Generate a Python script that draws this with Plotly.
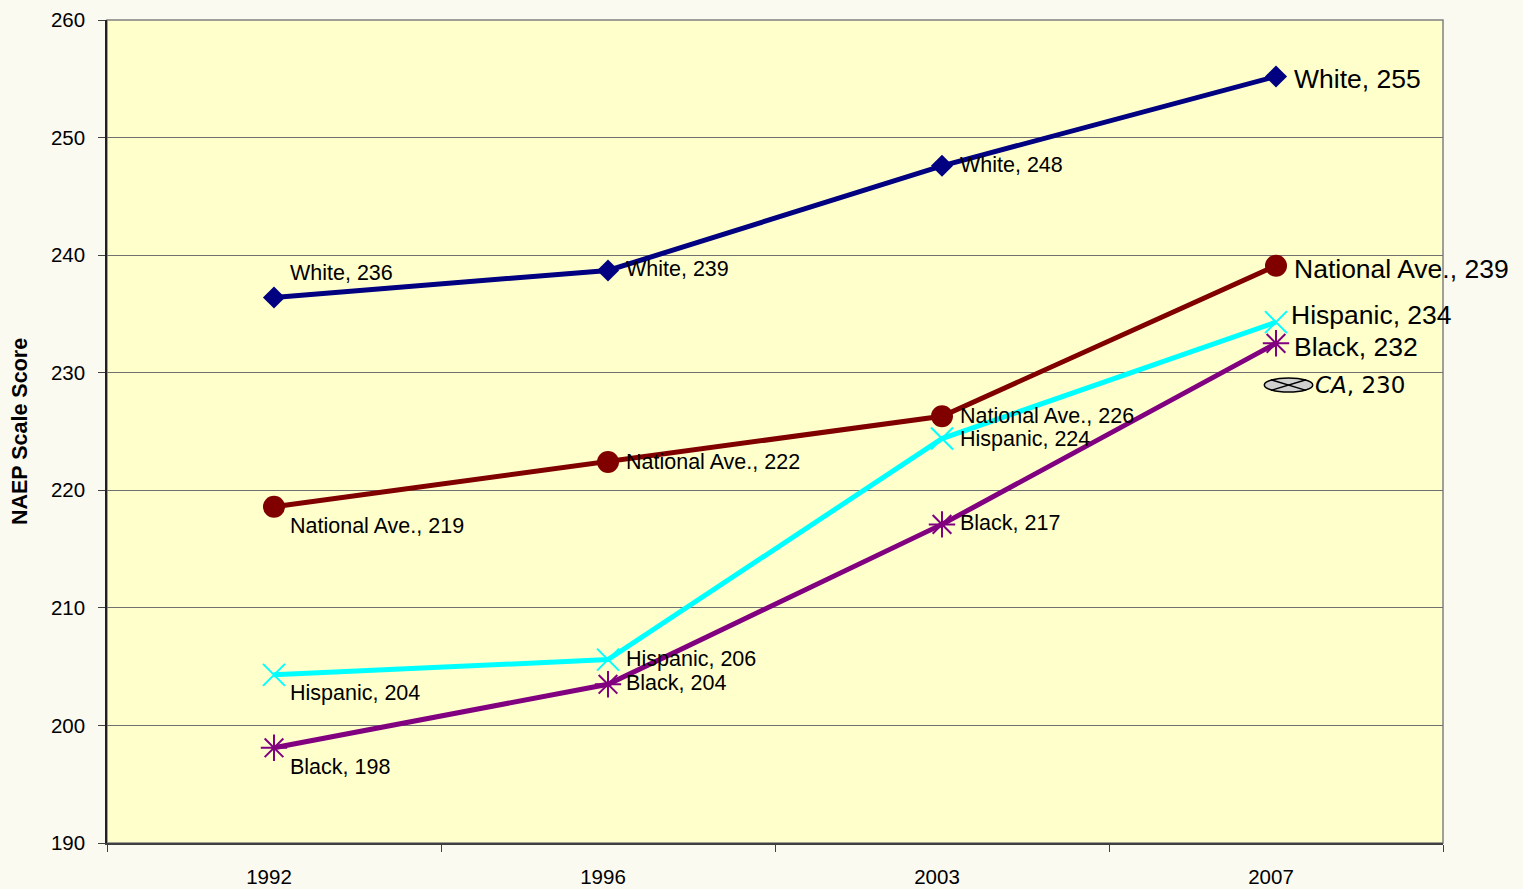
import plotly.graph_objects as go

years = ["1992", "1996", "2003", "2007"]
white = [236.4, 238.7, 247.6, 255.2]
national = [218.6, 222.4, 226.3, 239.1]
hispanic = [204.3, 205.6, 224.4, 234.3]
black = [198.1, 203.5, 217.1, 232.5]
white_lbl = [236, 239, 248, 255]
national_lbl = [219, 222, 226, 239]
hispanic_lbl = [204, 206, 224, 234]
black_lbl = [198, 204, 217, 232]
ca_year = "2007"
ca_value = 230
y_ticks = [190, 200, 210, 220, 230, 240, 250, 260]

FONT = "Liberation Sans, Arial, sans-serif"

fig = go.Figure()

series = [
    ("White", white, "#000080", dict(symbol="diamond", size=17, color="#000080")),
    ("National Ave.", national, "#800000", dict(symbol="circle", size=22, color="#800000")),
    ("Hispanic", hispanic, "#00FFFF", dict(symbol="x-thin-open", size=22, color="#00FFFF",
                                          line=dict(color="#00FFFF", width=2))),
    ("Black", black, "#800080", dict(symbol="asterisk-open", size=22, color="#800080",
                                     line=dict(color="#800080", width=2))),
]
for name, vals, col, mk in series:
    fig.add_trace(go.Scatter(x=years, y=vals, mode="lines+markers", name=name,
                             line=dict(color=col, width=5), marker=mk,
                             showlegend=False, hoverinfo="x+y"))

label_specs = [
    ("White", white, white_lbl, [(14, 24), (16, 1), (16, 1), (16, -3)]),
    ("National Ave.", national, national_lbl, [(14, -19), (16, 0), (16, 0), (16, -3)]),
    ("Hispanic", hispanic, hispanic_lbl, [(14, -18), (16, 1), (16, 0), (13, 7)]),
    ("Black", black, black_lbl, [(14, -19), (16, 1), (16, 1), (16, -4)]),
]
annotations = []
for name, vals, lbls, shifts in label_specs:
    for i, (yr, v, lb) in enumerate(zip(years, vals, lbls)):
        big = i == len(years) - 1
        annotations.append(dict(x=i, y=v, xref="x", yref="y", text=f"{name}, {lb}",
                                showarrow=False, xanchor="left", yanchor="middle",
                                xshift=shifts[i][0], yshift=shifts[i][1],
                                font=dict(family=FONT, size=26.5 if big else 21.5, color="black")))

ca_idx = years.index(ca_year)
annotations.append(dict(x=ca_idx, y=ca_value, xref="x", yref="y",
                        text=f"<i>CA</i>, {ca_value}", showarrow=False,
                        xanchor="left", yanchor="middle", xshift=37, yshift=-12,
                        font=dict(family="DejaVu Sans, sans-serif", size=23, color="black")))

# CA marker: ellipse with an X, placed just below the CA value
ex0, ex1 = ca_idx - 0.035, ca_idx + 0.11
ey0, ey1 = ca_value - 1.65, ca_value - 0.45
shapes = [
    dict(type="circle", xref="x", yref="y", x0=ex0, x1=ex1, y0=ey0, y1=ey1,
         fillcolor="#d0d0d0", line=dict(color="black", width=1.5)),
    dict(type="line", xref="x", yref="y", x0=ex0 + 0.02, x1=ex1 - 0.02, y0=ey0 + 0.15, y1=ey1 - 0.15,
         line=dict(color="black", width=1.5)),
    dict(type="line", xref="x", yref="y", x0=ex0 + 0.02, x1=ex1 - 0.02, y0=ey1 - 0.15, y1=ey0 + 0.15,
         line=dict(color="black", width=1.5)),
    dict(type="rect", xref="paper", yref="paper", x0=0, x1=1, y0=0, y1=1,
         line=dict(color="#808080", width=1.5), layer="below"),
]

fig.update_layout(
    width=1523, height=889,
    margin=dict(l=107, r=80, t=20, b=46),
    paper_bgcolor="#FBFAF1",
    plot_bgcolor="#FFFFCC",
    font=dict(family=FONT, size=17, color="black"),
    annotations=annotations,
    shapes=shapes,
)
fig.update_xaxes(type="category", range=[-0.5, len(years) - 0.5], automargin=False,
                 tickson="boundaries", ticks="outside", ticklen=7, tickcolor="#404040",
                 showline=True, linecolor="#404040", linewidth=2,
                 showgrid=False, tickfont=dict(family=FONT, size=20.5),
                 ticklabelstandoff=14, ticklabelshift=-5)
fig.update_yaxes(range=[190, 260], tickvals=y_ticks, ticks="outside", ticklen=7, automargin=False,
                 tickcolor="#404040", showline=True, linecolor="#202020", linewidth=1.5,
                 showgrid=True, gridcolor="#707070", gridwidth=1.3, zeroline=False,
                 tickfont=dict(family=FONT, size=20.5), ticklabelstandoff=9,
                 title=dict(text="<b>NAEP Scale Score</b>", font=dict(family=FONT, size=21.5),
                            standoff=17))

fig.write_html("out.html", config={"displayModeBar": False},
               post_script="document.body.style.margin='0';document.body.style.background='#FBFAF1';")
